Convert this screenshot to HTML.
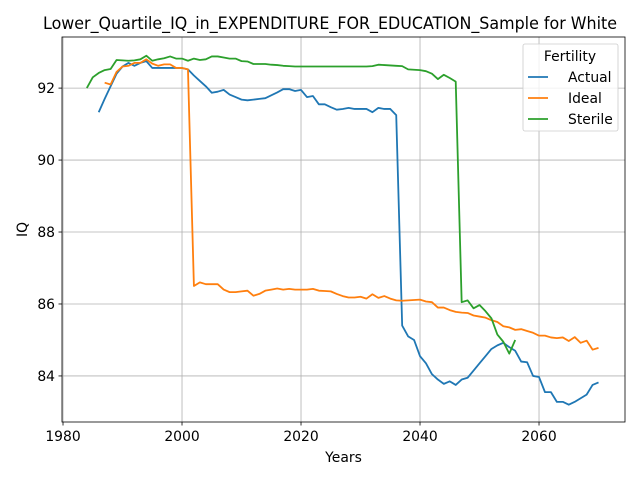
<!DOCTYPE html>
<html><head><meta charset="utf-8"><style>
body{margin:0;background:#fff;font-family:"Liberation Sans","DejaVu Sans",sans-serif}
svg text{font-family:"DejaVu Sans","Liberation Sans",sans-serif}
</style></head><body>
<svg id="chart" width="640" height="480" xmlns="http://www.w3.org/2000/svg"></svg>
<script>
const actualStart = 1986;
const actualValues = [91.33,91.7,92.05,92.4,92.6,92.7,92.62,92.7,92.75,92.56,92.56,92.56,92.56,92.56,92.56,92.52,92.35,92.2,92.05,91.87,91.9,91.95,91.82,91.75,91.68,91.66,91.68,91.7,91.72,91.8,91.88,91.97,91.97,91.92,91.95,91.75,91.78,91.55,91.55,91.47,91.4,91.42,91.45,91.42,91.42,91.42,91.33,91.45,91.42,91.42,91.25,85.4,85.1,85.0,84.55,84.35,84.05,83.9,83.78,83.85,83.75,83.9,83.95,84.15,84.35,84.55,84.75,84.85,84.92,84.8,84.7,84.4,84.38,84.0,83.97,83.55,83.55,83.28,83.28,83.2,83.28,83.38,83.48,83.75,83.82];
const idealStart = 1987;
const idealValues = [92.15,92.1,92.45,92.6,92.62,92.7,92.7,92.8,92.68,92.62,92.66,92.66,92.56,92.56,92.52,86.5,86.6,86.55,86.55,86.55,86.4,86.33,86.33,86.35,86.37,86.23,86.28,86.37,86.4,86.43,86.4,86.42,86.4,86.4,86.4,86.42,86.37,86.36,86.35,86.28,86.22,86.18,86.18,86.2,86.15,86.27,86.17,86.22,86.15,86.1,86.09,86.1,86.11,86.12,86.07,86.05,85.9,85.9,85.83,85.78,85.76,85.75,85.68,85.65,85.62,85.55,85.5,85.38,85.35,85.28,85.3,85.25,85.2,85.12,85.12,85.07,85.05,85.07,84.97,85.08,84.92,84.98,84.73,84.78];
const sterileStart = 1984;
const sterileValues = [92.0,92.3,92.42,92.5,92.53,92.78,92.77,92.76,92.77,92.8,92.9,92.76,92.8,92.83,92.88,92.82,92.82,92.76,92.82,92.78,92.8,92.88,92.88,92.85,92.82,92.82,92.75,92.74,92.67,92.67,92.67,92.65,92.64,92.62,92.61,92.6,92.6,92.6,92.6,92.6,92.6,92.6,92.6,92.6,92.6,92.6,92.6,92.6,92.61,92.65,92.64,92.63,92.62,92.61,92.52,92.51,92.5,92.47,92.4,92.25,92.37,92.28,92.18,86.05,86.1,85.88,85.97,85.8,85.6,85.15,84.95,84.62,85.0];
const xTicks = [1980,2000,2020,2040,2060];
const yTicks = [84,86,88,90,92];

const L=62,R=625,T=37,B=422;
const xMin=1979.83,xMax=2074.45,yMin=82.72,yMax=93.42;
const X=v=>L+(v-xMin)/(xMax-xMin)*(R-L);
const Y=v=>B-(v-yMin)/(yMax-yMin)*(B-T);
const svg=document.getElementById('chart');
const NS='http://www.w3.org/2000/svg';
function mk(tag,attrs,parent){const e=document.createElementNS(NS,tag);for(const k in attrs)e.setAttribute(k,attrs[k]);(parent||svg).appendChild(e);return e;}

const grid=mk('g',{});


xTicks.forEach(t=>{
  mk('line',{x1:X(t),x2:X(t),y1:T,y2:B,stroke:'#b0b0b0','stroke-width':0.8},grid);
  mk('line',{x1:X(t),x2:X(t),y1:B,y2:B+3.5,stroke:'#000','stroke-width':0.8},grid);
  const tx=mk('text',{x:X(t),y:B+19,'font-size':13.9,'text-anchor':'middle'});
  
  
  tx.textContent=t;
});
yTicks.forEach(t=>{
  mk('line',{x1:L,x2:R,y1:Y(t),y2:Y(t),stroke:'#b0b0b0','stroke-width':0.8},grid);
  mk('line',{x1:L-3.5,x2:L,y1:Y(t),y2:Y(t),stroke:'#000','stroke-width':0.8},grid);
  const tx=mk('text',{x:L-7,y:Y(t)+5,'font-size':13.9,'text-anchor':'end'});
  
  
  tx.textContent=t;
});

function series(start,vals,color,name){
  const d=vals.map((v,i)=>(i?'L':'M')+X(start+i).toFixed(2)+','+Y(v).toFixed(2)).join(' ');
  const p=mk('path',{d:d,fill:'none',stroke:color,'stroke-width':1.8,'stroke-linejoin':'round'});
  
  
}
series(actualStart,actualValues,'#1f77b4','actual-line');
series(idealStart,idealValues,'#ff7f0e','ideal-line');
series(sterileStart,sterileValues,'#2ca02c','sterile-line');

const frame=mk('rect',{x:L,y:T,width:R-L,height:B-T,fill:'none',stroke:'#000','stroke-width':0.8});



const title=mk('text',{x:43,y:T-8,'font-size':16.6,textLength:574,lengthAdjust:'spacingAndGlyphs'});


title.textContent='Lower_Quartile_IQ_in_EXPENDITURE_FOR_EDUCATION_Sample for White';
const xl=mk('text',{x:(L+R)/2,y:462,'font-size':13.9,'text-anchor':'middle'});


xl.textContent='Years';
const yl=mk('text',{x:0,y:0,'font-size':13.9,'text-anchor':'middle',transform:'translate(27,'+((T+B)/2)+') rotate(-90)'});


yl.textContent='IQ';

const lg=mk('g',{});


mk('rect',{x:523,y:44,width:95,height:87,rx:2,fill:'#fff','fill-opacity':0.8,stroke:'#ccc','stroke-width':0.8},lg);
const lt=mk('text',{x:570,y:61,'font-size':13.9,'text-anchor':'middle'},lg);
lt.textContent='Fertility';
[['Actual','#1f77b4'],['Ideal','#ff7f0e'],['Sterile','#2ca02c']].forEach((e,i)=>{
  const y=77+i*21;
  const g=mk('g',{},lg);
  
  
  mk('line',{x1:528,x2:548,y1:y,y2:y,stroke:e[1],'stroke-width':1.8},g);
  const t=mk('text',{x:568,y:y+5,'font-size':13.9},g);
  t.textContent=e[0];
});
</script>
</body></html>
